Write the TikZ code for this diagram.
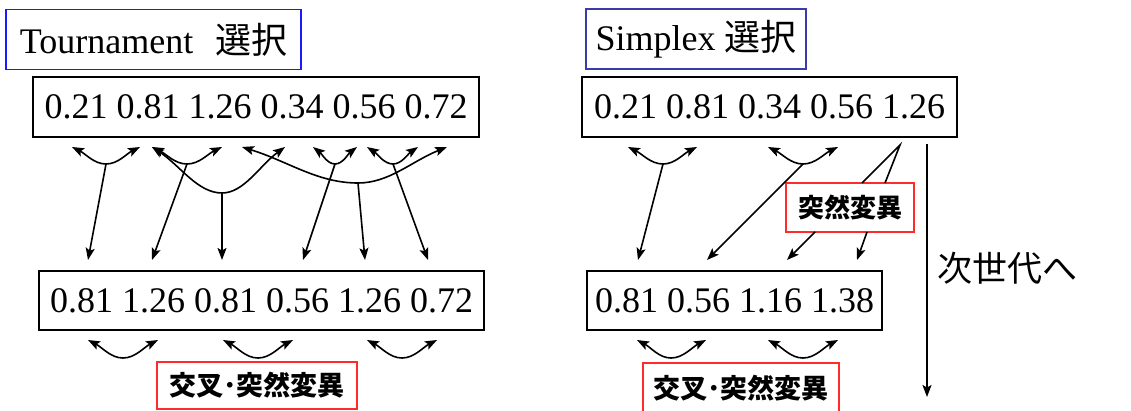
\documentclass[tikz,border=0pt]{standalone}
\usepackage{fontspec}
\setmainfont{Liberation Serif}
\newfontfamily\cjk{Noto Sans CJK JP}
\usetikzlibrary{arrows.meta,calc}
\definecolor{tblue}{HTML}{1A1AFF}
\definecolor{sblue}{HTML}{3C3CA8}
\definecolor{mred}{HTML}{FF2A2A}
\newcommand\dcurve[3]{\draw[dbl] let \p1=(#1),\p2=(#2),\p3=(#3) in (\p1) .. controls ({\x1+0.4*(\x2-\x1)},{\y1+0.4*(\y2-\y1)}) and ({\x2-0.35*(\x2-\x1)},\y2) .. (\p2) .. controls ({\x2+0.35*(\x3-\x2)},\y2) and ({\x3+0.4*(\x2-\x3)},{\y3+0.4*(\y2-\y3)}) .. (\p3);}
\begin{document}
\begin{tikzpicture}[x=1pt,y=-1pt,
  tip/.tip={Stealth[length=12pt,width=9pt,inset=2.5pt]},
  arr/.style={line width=1.6pt,-tip},
  dbl/.style={line width=1.6pt,tip-tip},
  numbox/.style={draw,line width=1.3pt,minimum height=60pt,inner sep=0pt,font=\fontsize{36}{40}\selectfont},
  titlebox/.style={draw,line width=1.3pt,minimum height=60pt,inner sep=0pt,font=\fontsize{36}{40}\selectfont},
  redbox/.style={draw=mred,line width=1.3pt,inner sep=0pt,font=\cjk\bfseries\fontsize{27}{30}\selectfont}]
\clip (0,0) rectangle (1131,410);
% titles
\node[titlebox,draw=tblue,minimum width=295pt] (ttitle) at (153.5,39.5) {Tournament\hspace{22pt}{\cjk 選択}};
\node[titlebox,draw=sblue,minimum width=220pt] (stitle) at (696,39) {Simplex {\cjk 選択}};
% number boxes
\node[numbox,minimum width=446pt] (tl) at (256,107) {0.21 0.81 1.26 0.34 0.56 0.72};
\node[numbox,minimum width=445pt,minimum height=59pt] (bl) at (261.5,300.5) {0.81 1.26 0.81 0.56 1.26 0.72};
\node[numbox,minimum width=375pt] (tr) at (769.5,107) {0.21 0.81 0.34 0.56 1.26\hspace{9pt}};
\node[numbox,minimum width=295pt,minimum height=59pt] (br) at (734.5,300.5) {0.81 0.56 1.16 1.38};
% red boxes
\node[redbox,minimum width=200pt,minimum height=47pt] (xl) at (257,385.5) {交叉･突然変異};
\node[redbox,minimum width=196pt,minimum height=51pt] (xr) at (741,388.5) {\raisebox{2pt}{交叉･突然変異}};
\node[redbox,minimum width=128pt,minimum height=49pt,font=\cjk\bfseries\fontsize{26}{30}\selectfont] (mut) at (850,207.5) {突然変異};
% next generation
\node[font=\cjk\fontsize{35}{40}\selectfont,inner sep=0pt] (next) at (1007,268) {次世代へ};
% --- tournament coordinates
\coordinate (t1) at (72,147);  \coordinate (t2) at (140,147);
\coordinate (t3) at (152,147); \coordinate (t4) at (222,147);
\coordinate (t5) at (242,147); \coordinate (t6) at (285,147);
\coordinate (t7) at (313,147); \coordinate (t8) at (357,147);
\coordinate (t9) at (367,147); \coordinate (t10) at (418,147);
\coordinate (t11) at (447,147);
\coordinate (b1) at (106,164); \coordinate (b2) at (187,164);
\coordinate (b3) at (222,193); \coordinate (b4) at (358,183);
\coordinate (b5) at (335,164); \coordinate (b6) at (393,164);
\coordinate (d1) at (88,260);  \coordinate (d2) at (152,260);
\coordinate (d3) at (222,260); \coordinate (d4) at (303,260);
\coordinate (d5) at (365,260); \coordinate (d6) at (428,260);
\dcurve{t1}{b1}{t2}
\dcurve{t3}{b2}{t4}
\dcurve{t3}{b3}{t6}
\dcurve{t5}{b4}{t11}
\dcurve{t7}{b5}{t8}
\dcurve{t9}{b6}{t10}
\draw[arr] (b1) -- (d1);
\draw[arr] (b2) -- (d2);
\draw[arr] (b3) -- (d3);
\draw[arr] (b5) -- (d4);
\draw[arr] (b4) -- (d5);
\draw[arr] (b6) -- (d6);
% lower-left crossover curves
\coordinate (u1) at (88,340);  \coordinate (v1) at (123,358); \coordinate (w1) at (158,340);
\coordinate (u2) at (223,340); \coordinate (v2) at (258,358); \coordinate (w2) at (293,340);
\coordinate (u3) at (367,340); \coordinate (v3) at (402,358); \coordinate (w3) at (437,340);
\dcurve{u1}{v1}{w1}
\dcurve{u2}{v2}{w2}
\dcurve{u3}{v3}{w3}
% --- simplex coordinates
\coordinate (s1) at (628,147); \coordinate (sb1) at (663,164); \coordinate (s2) at (697,147);
\coordinate (s3) at (768,147); \coordinate (sb2) at (803,164); \coordinate (s4) at (838,147);
\dcurve{s1}{sb1}{s2}
\dcurve{s3}{sb2}{s4}
\coordinate (sd1) at (638,260); \coordinate (sd2) at (707,260);
\coordinate (sd3) at (787,260); \coordinate (sd4) at (857,260);
\draw[arr] (sb1) -- (sd1);
\draw[arr] (sb2) -- (sd2);
\coordinate (s5) at (900,145);
\coordinate (m1) at (862,183); \coordinate (m2) at (885,183);
\coordinate (m3) at (815,232); \coordinate (m4) at (867,232);
\draw[line width=1.6pt] (m1) -- (s5) -- (m2);
\draw[arr] (m3) -- (sd3);
\draw[arr] (m4) -- (sd4);
\coordinate (r1) at (637,340); \coordinate (rv1) at (671,358); \coordinate (r2) at (706,340);
\coordinate (r3) at (768,340); \coordinate (rv2) at (803,358); \coordinate (r4) at (838,340);
\dcurve{r1}{rv1}{r2}
\dcurve{r3}{rv2}{r4}
% next-generation arrow
\coordinate (g1) at (927,144); \coordinate (g2) at (927,397);
\draw[arr] (g1) -- (g2);
\end{tikzpicture}
\end{document}
